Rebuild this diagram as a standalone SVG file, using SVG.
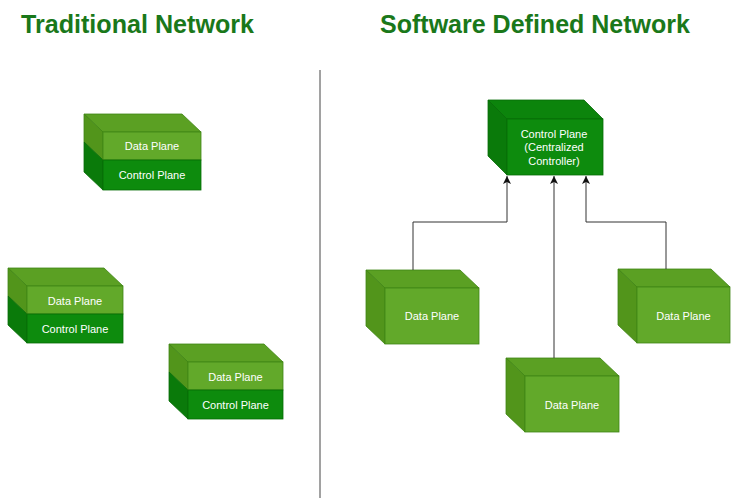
<svg xmlns="http://www.w3.org/2000/svg" width="731" height="498" viewBox="0 0 731 498">
<style>
.title{font-family:"Liberation Sans",Arial,sans-serif;font-weight:bold;font-size:25px;fill:#1a781a}
.lbl{font-family:"Liberation Sans",Arial,sans-serif;font-size:11px;fill:#ffffff;text-anchor:middle;dominant-baseline:central}
.lf{fill:#62a92a;stroke:#3f8514;stroke-width:0.8}
.lt{fill:#5ba023;stroke:#3f8514;stroke-width:0.8}
.ls{fill:#52951b;stroke:#3f8514;stroke-width:0.8}
.df{fill:#0d8b0d;stroke:#076c07;stroke-width:0.8}
.dt{fill:#0c840c;stroke:#076c07;stroke-width:0.8}
.ds{fill:#0a7a0a;stroke:#076c07;stroke-width:0.8}
.conn{fill:none;stroke:#333333;stroke-width:1}
</style>
<defs>
<marker id="arr" markerUnits="userSpaceOnUse" markerWidth="10" markerHeight="10" refX="8" refY="4" orient="auto">
<path d="M0,0 L8,4 L0,8 L2,4 Z" fill="#111111"/>
</marker>
</defs>
<rect width="731" height="498" fill="#ffffff"/>
<text class="title" x="21" y="33" textLength="233" lengthAdjust="spacingAndGlyphs">Traditional Network</text>
<text class="title" x="380" y="33" textLength="310" lengthAdjust="spacingAndGlyphs">Software Defined Network</text>
<line x1="320" y1="70" x2="320" y2="498" stroke="#444444" stroke-width="1"/>

<g id="trad1">
<polygon class="lt" points="84,114 182,114 201,132 103,132"/>
<polygon class="ls" points="84,114 103,132 103,160 84,142"/>
<polygon class="ds" points="84,142 103,160 103,190 84,172"/>
<rect class="lf" x="103" y="132" width="98" height="28"/>
<rect class="df" x="103" y="160" width="98" height="30"/>
<text class="lbl" x="152" y="146">Data Plane</text>
<text class="lbl" x="152" y="175">Control Plane</text>
</g>

<g id="trad2">
<polygon class="lt" points="8,268 104,268 123,286 27,286"/>
<polygon class="ls" points="8,268 27,286 27,314 8,296"/>
<polygon class="ds" points="8,296 27,314 27,343 8,325"/>
<rect class="lf" x="27" y="286" width="96" height="28"/>
<rect class="df" x="27" y="314" width="96" height="29"/>
<text class="lbl" x="75" y="301">Data Plane</text>
<text class="lbl" x="75" y="329">Control Plane</text>
</g>

<g id="trad3">
<polygon class="lt" points="169,344 264,344 283,362 188,362"/>
<polygon class="ls" points="169,344 188,362 188,390 169,372"/>
<polygon class="ds" points="169,372 188,390 188,419 169,401"/>
<rect class="lf" x="188" y="362" width="95" height="28"/>
<rect class="df" x="188" y="390" width="95" height="29"/>
<text class="lbl" x="235.5" y="377">Data Plane</text>
<text class="lbl" x="235.5" y="405">Control Plane</text>
</g>

<g id="controller">
<polygon class="dt" points="488,100 584,100 603,119 507,119"/>
<polygon class="ds" points="488,100 507,119 507,175 488,156"/>
<rect class="df" x="507" y="119" width="96" height="56"/>
<text class="lbl" x="554" y="133.5">Control Plane</text>
<text class="lbl" x="554" y="147">(Centralized</text>
<text class="lbl" x="554" y="160.5">Controller)</text>
</g>

<g id="sdn-data1">
<polygon class="lt" points="366,270 460,270 479,288 385,288"/>
<polygon class="ls" points="366,270 385,288 385,344 366,326"/>
<rect class="lf" x="385" y="288" width="94" height="56"/>
<text class="lbl" x="432" y="316">Data Plane</text>
</g>

<g id="sdn-data2">
<polygon class="lt" points="506,358 600,358 619,376 525,376"/>
<polygon class="ls" points="506,358 525,376 525,432 506,414"/>
<rect class="lf" x="525" y="376" width="94" height="56"/>
<text class="lbl" x="572" y="405">Data Plane</text>
</g>

<g id="sdn-data3">
<polygon class="lt" points="618,269 711,269 730,287 637,287"/>
<polygon class="ls" points="618,269 637,287 637,343 618,325"/>
<rect class="lf" x="637" y="287" width="93" height="56"/>
<text class="lbl" x="683.5" y="316">Data Plane</text>
</g>

<g id="connectors">
<path class="conn" d="M413,270 V222 H507 V176" marker-end="url(#arr)"/>
<path class="conn" d="M554,358 V176" marker-end="url(#arr)"/>
<path class="conn" d="M666,269 V222 H586 V176" marker-end="url(#arr)"/>
</g>
</svg>
